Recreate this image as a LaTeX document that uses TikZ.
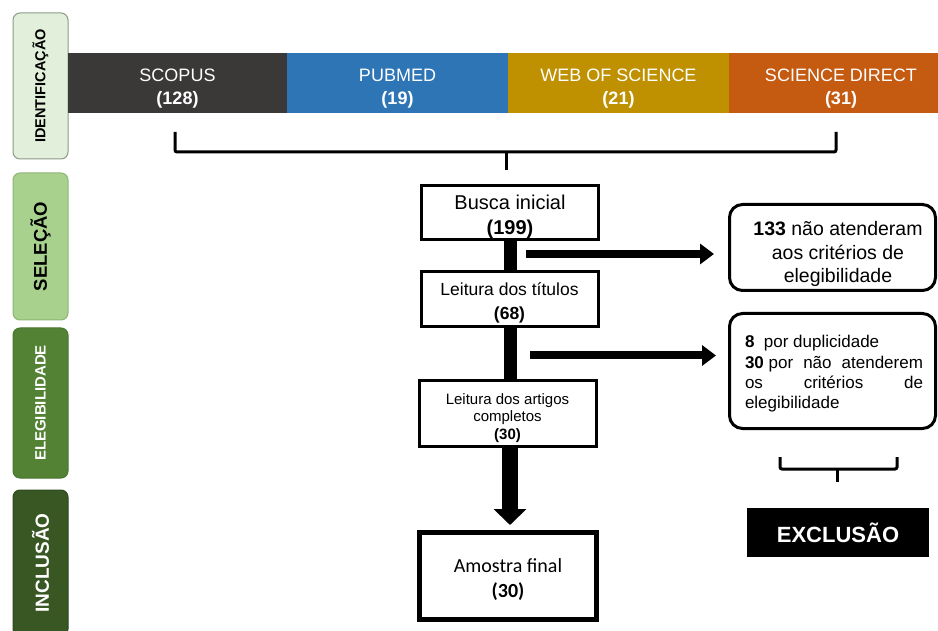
\documentclass[tikz,border=0pt]{standalone}
\usepackage{fontspec}
\setmainfont{Liberation Sans}
\newfontfamily\calibri{Carlito}
\usetikzlibrary{arrows.meta}
\definecolor{cident}{HTML}{E2EFDA}
\definecolor{identline}{HTML}{8C9C87}
\definecolor{csel}{HTML}{A9D18E}
\definecolor{selline}{HTML}{8FB474}
\definecolor{cele}{HTML}{548235}
\definecolor{eleline}{HTML}{4A7530}
\definecolor{cinc}{HTML}{385723}
\definecolor{incline}{HTML}{2F4A1E}
\definecolor{cscopus}{HTML}{3B3838}
\definecolor{cpub}{HTML}{2E75B6}
\definecolor{cwos}{HTML}{BF9000}
\definecolor{csd}{HTML}{C55A11}
\begin{document}
\begin{tikzpicture}[x=1pt,y=-1pt,
  phase/.style={rotate=90,rounded corners=7pt,inner sep=0pt,minimum height=55pt,line width=1pt},
  seg/.style={fill=#1,inner sep=0pt,minimum height=60pt},
  segtext/.style={text=white,align=center,inner sep=0pt,font=\fontsize{18}{23}\selectfont},
  flowbox/.style={draw,line width=3pt,fill=white,inner sep=0pt,minimum width=177pt},
  txt/.style={align=center,inner sep=0pt},
  exbox/.style={draw,line width=3pt,rounded corners=13pt,inner sep=0pt,minimum width=206pt},
  bracket/.style={line width=3pt,rounded corners=2pt},
  fatlink/.style={line width=13pt},
  sidearrow/.style={line width=8pt,-{Triangle[width=20pt,length=14pt]}},
  downarrow/.style={line width=16pt,-{Triangle[width=32pt,length=16pt]}}
]
\useasboundingbox (0,0) rectangle (938,631);
\fill[white] (0,0) rectangle (938,631);

% phase labels
\node[phase,draw=identline,fill=cident,minimum width=146pt,font=\bfseries\fontsize{14.5}{14.5}\selectfont] (ident) at (40.5,86) {IDENTIFICAÇÃO};
\node[phase,draw=selline,fill=csel,minimum width=147pt,font=\bfseries\fontsize{18.5}{18.5}\selectfont] (sel) at (40.5,246.5) {SELEÇÃO};
\node[phase,draw=eleline,fill=cele,minimum width=150pt,text=white,font=\bfseries\fontsize{15}{15}\selectfont] (eleg) at (40.5,403) {ELEGIBILIDADE};
\node[phase,draw=incline,fill=cinc,minimum width=146pt,text=white,font=\bfseries\fontsize{19}{19}\selectfont] (incl) at (40.5,563) {INCLUSÃO};

% database bar
\node[seg=cscopus,minimum width=219pt] (scopus) at (177.5,83) {};
\node[seg=cpub,minimum width=221pt] (pubmed) at (397.5,83) {};
\node[seg=cwos,minimum width=221pt] (wos) at (618.5,83) {};
\node[seg=csd,minimum width=224pt] (sd) at (841,83) {};
\node[segtext] (scopust) at (177.5,88.5) {SCOPUS\\\textbf{(128)}};
\node[segtext] (pubmedt) at (397.5,88.5) {PUBMED\\\textbf{(19)}};
\node[segtext] (wost) at (618.5,88.5) {WEB OF SCIENCE\\\textbf{(21)}};
\node[segtext] (sdt) at (841,88.5) {SCIENCE DIRECT\\\textbf{(31)}};

% top bracket
\coordinate (b1) at (175,132);
\coordinate (b2) at (836,132);
\coordinate (bc) at (506,152);
\draw[bracket] (b1) -- (b1 |- bc) -- (b2 |- bc) -- (b2);
\draw[line width=3pt] (bc) -- ++(0,18);

% flow boxes
\node[flowbox,minimum height=54pt] (busca) at (510,212.5) {};
\node[txt,font=\fontsize{20}{25}\selectfont] (buscat) at (510,216.5) {Busca inicial\\\textbf{(199)}};
\node[flowbox,minimum height=55pt] (titulos) at (509.5,299) {};
\node[txt,font=\fontsize{17.5}{24}\selectfont] (titulost) at (509.5,302.5) {Leitura dos títulos\\\textbf{(68)}};
\node[flowbox,minimum height=66pt] (artigos) at (507.5,413.5) {};
\node[txt,font=\fontsize{15}{17.5}\selectfont] (artigost) at (507.5,418) {Leitura dos artigos\\completos\\\textbf{(30)}};
\node[flowbox,line width=5pt,minimum height=87pt] (amostra) at (508,576) {};
\node[txt,font=\calibri\fontsize{20}{25}\selectfont] (amostrat) at (508,580) {Amostra final\\\textbf{(30)}};

\draw[fatlink] (busca.south) -- (busca.south |- titulos.north);
\draw[fatlink] (busca.south |- titulos.south) -- (busca.south |- artigos.north);
\coordinate (tip) at ([yshift=5pt]amostra.north);
\draw[downarrow] (busca.south |- artigos.south) -- (busca.south |- tip);

% exclusion boxes
\node[exbox,minimum height=86pt] (ex1) at (832.5,247.5) {};
\node[txt,font=\fontsize{19.5}{23.5}\selectfont] (ex1t) at (838,254) {\textbf{133} não atenderam\\aos critérios de\\elegibilidade};
\node[exbox,minimum height=115pt] (ex2) at (832.5,371) {};
\node[align=left,inner sep=0pt,font=\fontsize{17}{20.3}\selectfont] (ex2t) at (834,374) {\hbox to 178pt{\textbf{8}\ \ por duplicidade\hfill}\\\hbox to 178pt{\textbf{30} por\hfill não\hfill atenderem}\\\hbox to 178pt{os\hfill critérios\hfill de}\\\hbox to 178pt{elegibilidade\hfill}};

\coordinate (a1s) at (526,254);
\path (a1s -| ex1.west) coordinate (a1w);
\draw[sidearrow] (a1s) -- ([xshift=-14pt]a1w);
\coordinate (a2s) at (530,355.5);
\path (a2s -| ex2.west) coordinate (a2w);
\draw[sidearrow] (a2s) -- ([xshift=-12pt]a2w);

% small bracket
\coordinate (s1) at (780,457);
\coordinate (s2) at (897,457);
\coordinate (sc) at (837,469);
\draw[bracket] (s1) -- (s1 |- sc) -- (s2 |- sc) -- (s2);
\draw[line width=3pt] (sc) -- ++(0,13);

\node[fill=black,minimum width=182pt,minimum height=49pt,inner sep=0pt,text=white,font=\bfseries\fontsize{22}{22}\selectfont] (excl) at (838,532.5) {EXCLUSÃO};
\end{tikzpicture}
\end{document}
